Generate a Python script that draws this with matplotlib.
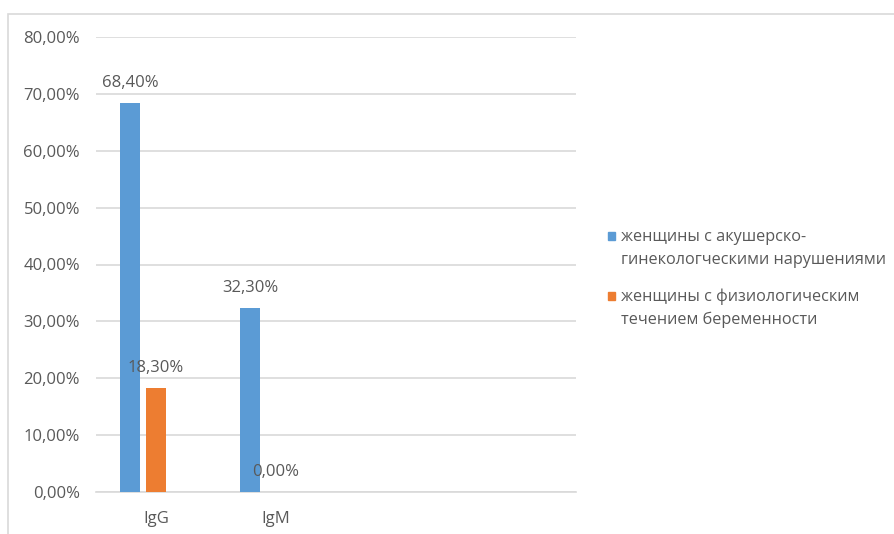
import matplotlib
matplotlib.use("Agg")
import matplotlib.pyplot as plt
from matplotlib.patches import Rectangle
import numpy as np

# data
categories = ["IgG", "IgM", "", ""]
series_names = [
    "женщины с акушерско-\nгинекологческими нарушениями",
    "женщины с физиологическим\nтечением беременности",
]
obstetric = [0.684, 0.323]
physiologic = [0.183, 0.000]
yticks = [0.0, 0.1, 0.2, 0.3, 0.4, 0.5, 0.6, 0.7, 0.8]

colors = ["#5B9BD5", "#ED7D31"]
text_color = "#595959"
grid_color = "#D9D9D9"
fs = 12

plt.rcParams["font.family"] = ["Open Sans", "DejaVu Sans"]
plt.rcParams["font.size"] = fs

W, H = 895, 534


def pct(v):
    return f"{v * 100:.2f}%".replace(".", ",")


fig = plt.figure(figsize=(W / 100, H / 100), dpi=100)
# outer chart border, cut off at right and bottom like the screenshot
fig.patches.append(Rectangle((8 / W, -0.05), 1.2, (H - 14) / H + 0.05,
                             transform=fig.transFigure, fill=False,
                             edgecolor=grid_color, linewidth=1.2))

ax = fig.add_axes([96 / W, 42 / H, 480 / W, 455 / H])

x = np.arange(len(categories))
width = 0.171
offsets = [-0.217, 0.0]  # a third (empty) slot sits at +0.217
for vals, off, col in zip([obstetric, physiologic], offsets, colors):
    xs = x[:len(vals)] + off
    ax.bar(xs, vals, width=width, color=col, zorder=3)
    for xi, v in zip(xs, vals):
        ax.annotate(pct(v), (xi, v), xytext=(0, 20), textcoords="offset pixels",
                    ha="center", va="center", color=text_color, fontsize=fs,
                    zorder=4)

ax.set_xlim(-0.5, len(categories) - 0.5)
ax.set_ylim(0, 0.8)
ax.set_yticks(yticks)
ax.set_yticklabels([pct(t) for t in yticks])
ax.set_xticks(x)
ax.set_xticklabels(categories)
ax.tick_params(axis="both", length=0, colors=text_color, labelsize=fs)
ax.tick_params(axis="y", pad=11.5)
ax.tick_params(axis="x", pad=14)
ax.yaxis.grid(True, color=grid_color, linewidth=1.2, zorder=0)
for side in ["left", "right", "top"]:
    ax.spines[side].set_visible(False)
ax.spines["bottom"].set_color(grid_color)
ax.spines["bottom"].set_linewidth(1.2)

# legend drawn by hand: square marker lines up with the first text line
entry_top = [236, 296]
for name, col, y0 in zip(series_names, colors, entry_top):
    fig.patches.append(Rectangle((608 / W, 1 - (y0 + 3.5) / H), 7.5 / W, 7.5 / H,
                                 transform=fig.transFigure, color=col))
    for i, line in enumerate(name.split("\n")):
        fig.text(621 / W, 1 - (y0 + 1 + 23 * i) / H, line, ha="left",
                 va="center", color=text_color, fontsize=11.7)

fig.savefig("out.png", dpi=100)
